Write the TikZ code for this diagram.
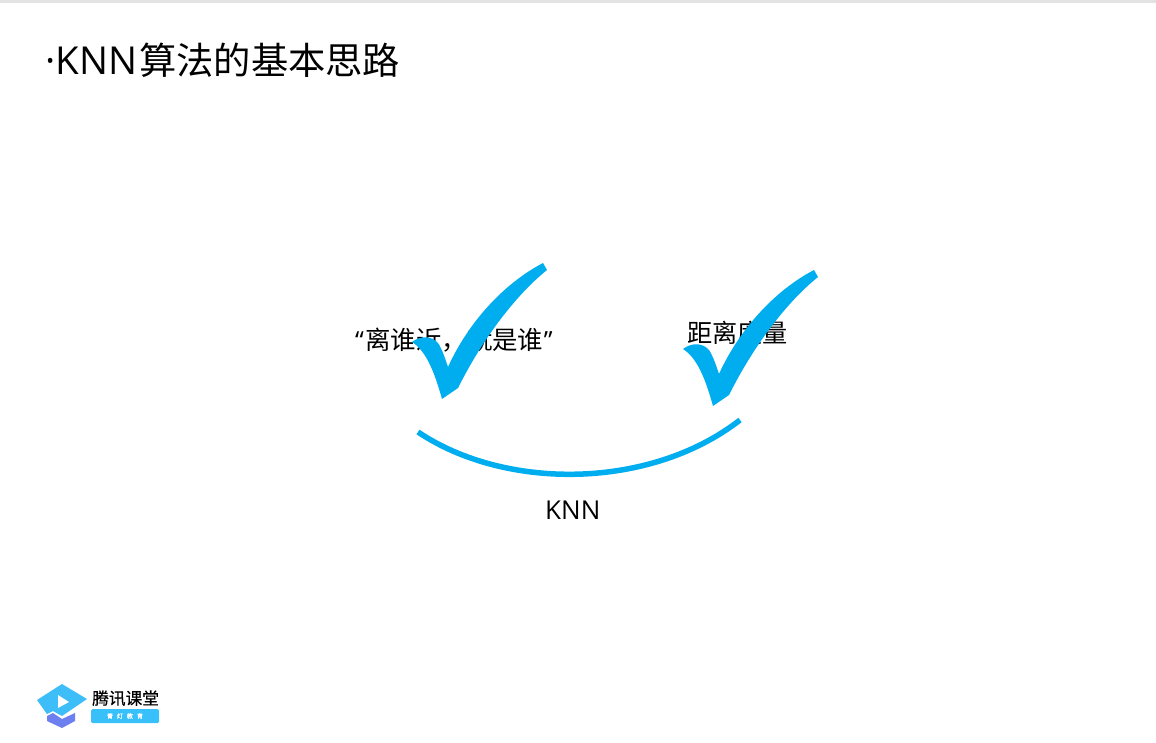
\documentclass[tikz,border=0pt]{standalone}
\usepackage{fontspec}
\setmainfont{Open Sans}
\newfontfamily\cjk{Noto Sans CJK SC}
\newfontfamily\cjkb[FakeBold=0.4]{Noto Sans CJK SC}
\definecolor{tick}{HTML}{00AEEF}
\definecolor{logoblue}{HTML}{3DBEF8}
\definecolor{logopurple}{HTML}{6E7FF0}
\definecolor{logobar}{HTML}{38C0FB}
\newcommand{\tickshape}{(543,263) -- (547,270)
  .. controls (516,295) and (483,338) .. (458,388)
  -- (442,399)
  .. controls (436,378) and (428,352) .. (412,342)
  .. controls (420,336) and (431,335) .. (438,343)
  .. controls (442,349) and (445,358) .. (448,367)
  .. controls (468,323) and (503,284) .. (543,263) -- cycle}
\tikzset{
  x=1pt,y=-1pt,
  lbl/.style={anchor=base west,inner sep=0pt,text=black},
  tickfill/.style={fill=tick,draw=none},
}
\begin{document}
\begin{tikzpicture}
\useasboundingbox (0,0) rectangle (1156,743);
\fill[white] (0,0) rectangle (1156,743);
\fill[black!11] (0,0) rectangle (1156,3);
\node[lbl,font=\fontsize{38.5}{40}\selectfont] (title) at (45,75) {·KNN\hspace{2pt}{\fontsize{37.3}{40}\selectfont\cjk 算法的基本思路}};
\node[lbl,font=\fontsize{25}{28}\selectfont] (left) at (355,349) {“\hspace{1.5pt}{\fontsize{25.4}{28}\selectfont\cjk 离谁近\char"FF0C 就是谁}\hspace{0.5pt}”};
\node[lbl,font=\fontsize{25.2}{28}\selectfont\cjk] (right) at (687,342) {距离度量};
\node[lbl,font=\fontsize{26}{28}\selectfont] (knn) at (545,519) {KNN};
\fill[tickfill] \tickshape;
\begin{scope}[shift={(271,7)}]
\fill[tickfill] \tickshape;
\end{scope}
\draw[tick,line width=5.5pt] (418,432) .. controls (505,490.5) and (650,490) .. (740,420);
% logo
\fill[logopurple] (47,716) -- (53,713) -- (62,719) -- (75,713) -- (75,721) -- (62,728) -- (47,721) -- cycle;
\fill[logoblue] (37,700) -- (62,684) -- (87,699) -- (62,716) -- (53,711) -- (47,714) -- cycle;
\fill[white] (58,695) -- (58,708) -- (69,702) -- cycle;
\fill[logobar,rounded corners=1.5pt] (91,709) rectangle (159,723);
\node[lbl,font=\fontsize{16.7}{18}\selectfont\cjkb] (brand) at (92,704.5) {腾讯课堂};
\node[anchor=center,inner sep=0pt,text=white,font=\fontsize{6}{7}\selectfont\cjkb] (sub) at (125,716) {青\hspace{4pt}灯\hspace{4pt}教\hspace{4pt}育};
\end{tikzpicture}
\end{document}
